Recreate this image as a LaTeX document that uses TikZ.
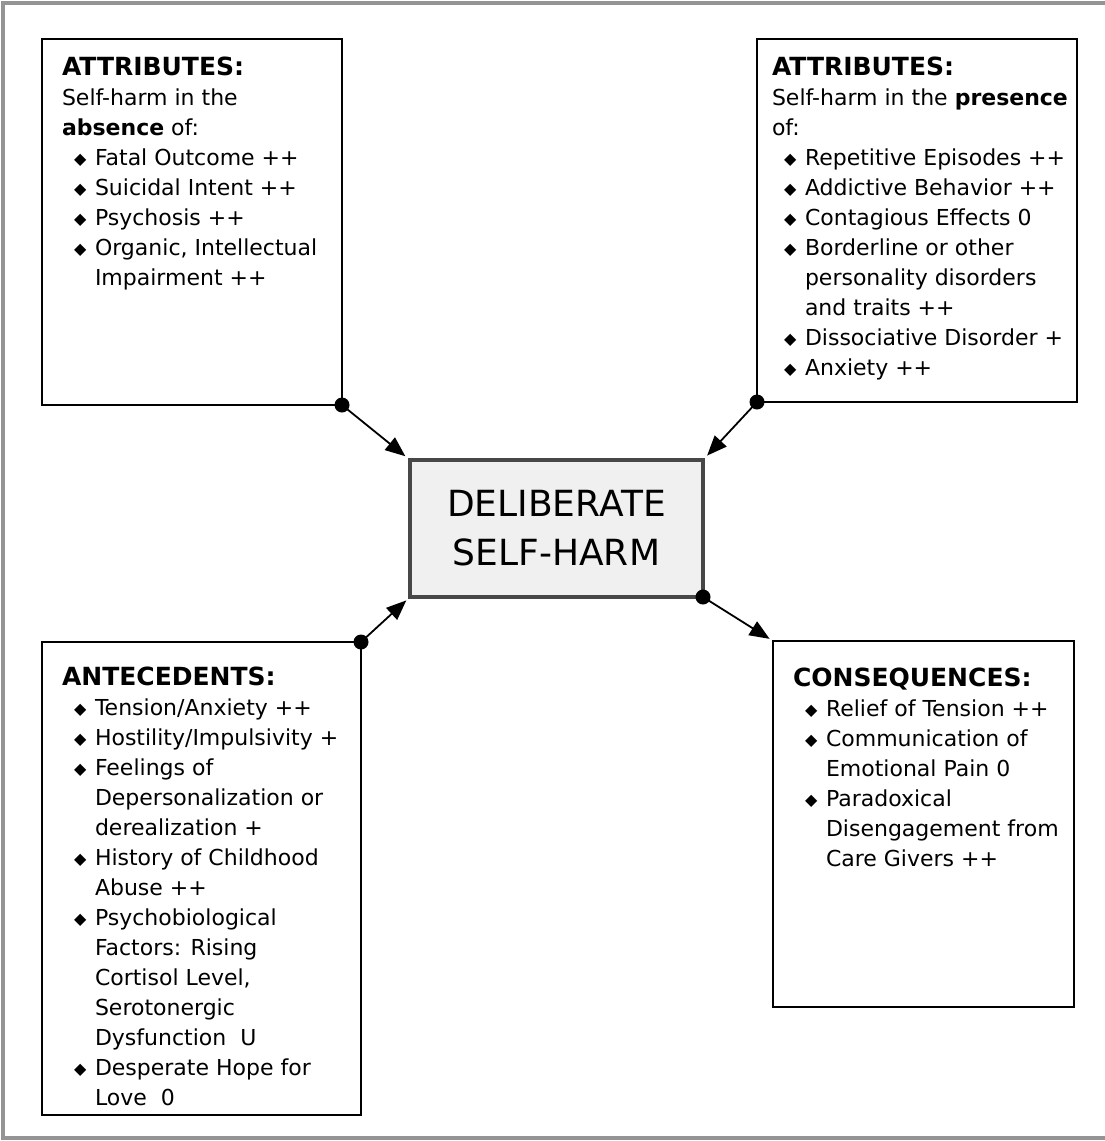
\documentclass[tikz,border=0pt]{standalone}
\usepackage{fontspec}
\setmainfont{DejaVu Sans}
\usetikzlibrary{arrows.meta}

% list helpers: diamond bullet, bullet line, continuation line
\newcommand\dmd{\raisebox{1.5pt}{\fontsize{16}{16}\selectfont ◆}}
\newcommand\itm{\hspace*{12pt}\makebox[21pt][l]{\dmd}}
\newcommand\cnt{\hspace*{33pt}}
\newcommand\hd[1]{{\fontsize{25}{30}\selectfont\bfseries #1}}

\tikzset{
  panel/.style={draw=black, line width=1.8pt, rectangle, inner sep=0pt, outer sep=0pt},
  core/.style={draw=black!72, line width=4pt, fill=black!6, rectangle, inner sep=0pt, outer sep=0pt,
    align=center, font=\fontsize{36}{49}\selectfont},
  body/.style={anchor=north west, inner sep=0pt, outer sep=0pt, align=left,
    font=\fontsize{22}{30}\selectfont},
  link/.style={line width=1.8pt, -{Triangle[length=20pt,width=16pt]}},
  joint/.style={circle, fill=black, inner sep=0pt, minimum size=15pt}
}

\begin{document}
\begin{tikzpicture}[x=1pt, y=-1pt]
\useasboundingbox (0,0) rectangle (1105,1141);
\fill[white] (0,0) rectangle (1105,1141);

% page frame
\draw[black!42, line width=4pt] (1105,3) -- (3,3) -- (3,1138) -- (1105,1138);

% boxes
\node[panel, minimum width=300pt, minimum height=366pt] (tl) at (192,222) {};
\node[panel, minimum width=320pt, minimum height=363pt] (tr) at (917,220.5) {};
\node[panel, minimum width=319pt, minimum height=473pt] (bl) at (201.5,878.5) {};
\node[panel, minimum width=301pt, minimum height=366pt] (br) at (923.5,824) {};
\node[core, minimum width=293pt, minimum height=137pt] (dsh) at (556.5,528.5) {DELIBERATE\\SELF-HARM};

% texts
\node[body] (tltxt) at (62,57) {\hd{ATTRIBUTES:}\\
Self-harm in the\\
\textbf{absence} of:\\
\itm Fatal Outcome ++\\
\itm Suicidal Intent ++\\
\itm Psychosis ++\\
\itm Organic, Intellectual\\
\cnt Impairment ++};

\node[body] (trtxt) at (772,57) {\hd{ATTRIBUTES:}\\
Self-harm in the \textbf{presence}\\
of:\\
\itm Repetitive Episodes ++\\
\itm Addictive Behavior ++\\
\itm Contagious Effects 0\\
\itm Borderline or other\\
\cnt personality disorders\\
\cnt and traits ++\\
\itm Dissociative Disorder +\\
\itm Anxiety ++};

\node[body] (bltxt) at (62,667) {\hd{ANTECEDENTS:}\\
\itm Tension/Anxiety ++\\
\itm Hostility/Impulsivity +\\
\itm Feelings of\\
\cnt Depersonalization or\\
\cnt derealization +\\
\itm History of Childhood\\
\cnt Abuse ++\\
\itm Psychobiological\\
\cnt Factors: Rising\\
\cnt Cortisol Level,\\
\cnt Serotonergic\\
\cnt Dysfunction\ \ U\\
\itm Desperate Hope for\\
\cnt Love\ \ 0};

\node[body] (brtxt) at (793,668) {\hd{CONSEQUENCES:}\\
\itm Relief of Tension ++\\
\itm Communication of\\
\cnt Emotional Pain 0\\
\itm Paradoxical\\
\cnt Disengagement from\\
\cnt Care Givers ++};

% connectors
\draw[link, shorten >=6pt] (tl.south east) -- (dsh.north west);
\draw[link, shorten >=6pt] (tr.south west) -- (dsh.north east);
\draw[link, shorten >=5pt] (bl.north east) -- (dsh.south west);
\draw[link, shorten >=4pt] (dsh.south east) -- (br.north west);

% joints at the line origins
\node[joint] (j1) at (tl.south east) {};
\node[joint] (j2) at (tr.south west) {};
\node[joint] (j3) at (bl.north east) {};
\node[joint] (j4) at (dsh.south east) {};
\end{tikzpicture}
\end{document}
